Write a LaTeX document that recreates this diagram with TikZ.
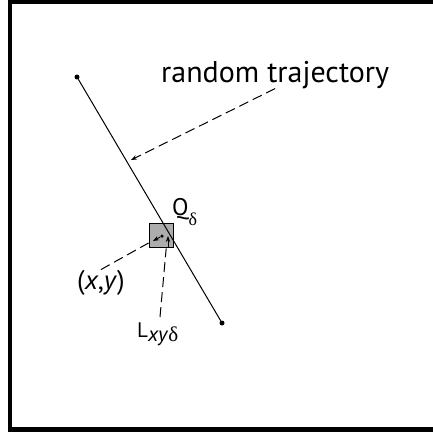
\documentclass[tikz,border=0pt]{standalone}
\usepackage{fontspec}
\setmainfont{PT Sans}
\newfontfamily\grk{Liberation Serif}
\usetikzlibrary{arrows.meta}

\newcommand{\dlt}{{\grk δ}}
\newcommand{\lowsub}[3][5pt]{\raisebox{-#1}{\fontsize{#2}{#2}\selectfont #3}}

\begin{document}
\begin{tikzpicture}[
  x=1pt, y=-1pt,
  lbl/.style={inner sep=0pt, font=\fontsize{24}{28}\selectfont},
  dotpt/.style={circle, fill=black, inner sep=0pt, minimum size=5pt},
  cell/.style={rectangle, draw=black, line width=1.8pt, fill=gray!65,
               minimum size=24pt, inner sep=0pt},
  darr/.style={dash pattern=on 10pt off 5pt, line width=1pt},
  tip/.style={-{Stealth[length=6pt, width=4.5pt]}}
]
\useasboundingbox (0,0) rectangle (432,437);
\draw[line width=4.5pt] (10,1.5) rectangle (436,429.5);

% trajectory and cell
\node[cell] (cell) at (161.5,235.5) {};
\node[dotpt] (start) at (77,77) {};
\node[dotpt] (end) at (222,323) {};
\draw[line width=1pt] (start) -- (end);

\node[dotpt, minimum size=3.5pt] (pt) at (162,236) {};
\coordinate (ptend) at (153,241);
\coordinate (lfoot) at (168,248);
\coordinate (lhead) at (168,236);
\draw[tip, line width=0.9pt] (pt) -- (ptend);
\draw[tip, line width=0.9pt] (lfoot) -- (lhead);

% labels
\node[lbl, anchor=base west, font=\fontsize{30}{34}\selectfont] (trajlbl) at (161,82) {random trajectory};
\node[lbl, anchor=base west] (qlbl) at (172,215) {Q\lowsub[10pt]{18}{\dlt}};
\node[lbl, anchor=base west, font=\fontsize{27}{30}\selectfont] (xylbl) at (77,289) {(\textit{x},\textit{y})};
\node[lbl, anchor=base west, font=\fontsize{21}{24}\selectfont] (llbl) at (137,337) {L\lowsub[4pt]{21}{\textit{xy}\dlt}};

\coordinate (hit) at (131,160);
\coordinate (lroot) at (160,317);
\draw[darr, tip] (trajlbl.south) -- (hit);
\draw[darr] (xylbl.north) -- (cell.210);
\draw[darr] (lroot) -- (cell.-70);

\end{tikzpicture}
\end{document}
